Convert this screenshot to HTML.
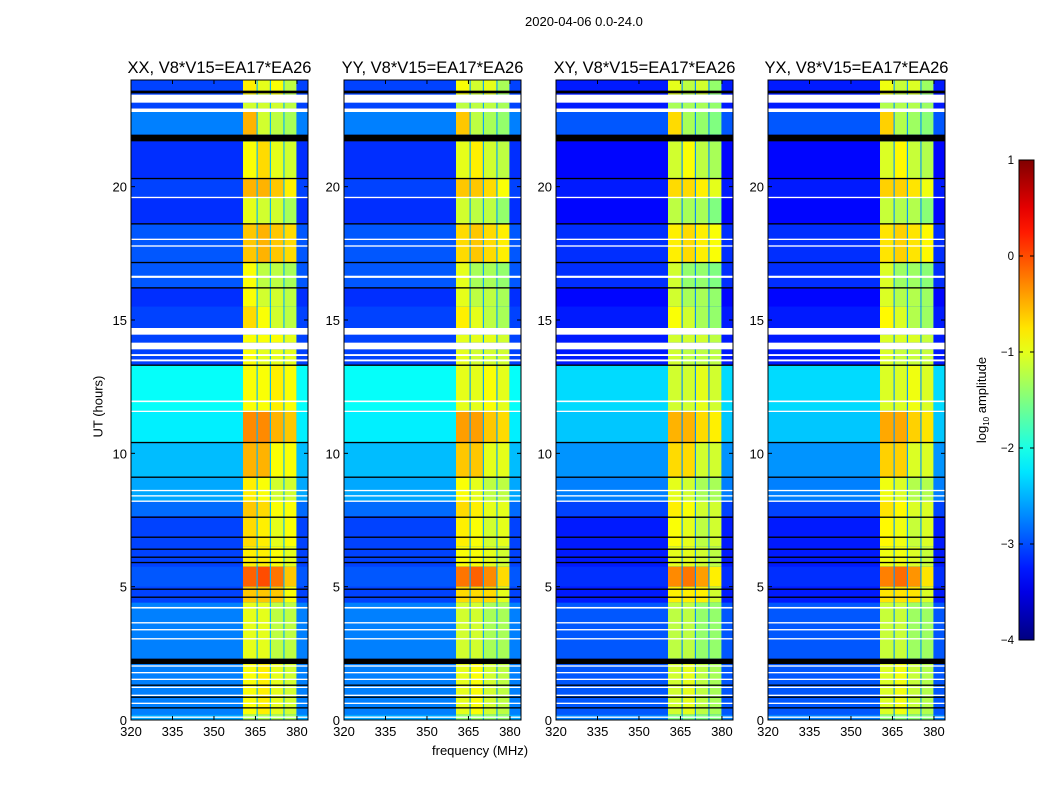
<!DOCTYPE html>
<html><head><meta charset="utf-8"><style>
body{margin:0;background:#fff;font-family:"Liberation Sans",sans-serif;}
#root{position:relative;width:1050px;height:800px;overflow:hidden;background:#fff}
.t{position:absolute;font-size:13px;color:#000;white-space:nowrap}
</style></head><body>
<div id="root">
<div class="t" style="left:525px;top:14px;font-size:13px">2020-04-06 0.0-24.0</div>
<div class="t" style="left:432px;top:743px">frequency (MHz)</div>
<div class="t" style="left:60px;top:392px;transform:rotate(-90deg);transform-origin:center;width:76px">UT (hours)</div>
<svg id="svg" width="1050" height="800" style="position:absolute;left:0;top:0"></svg>
</div>
<script>
const panelTitles=["XX, V8*V15=EA17*EA26","YY, V8*V15=EA17*EA26","XY, V8*V15=EA17*EA26","YX, V8*V15=EA17*EA26"];
const bgOffset=[-0.35,-0.35,-0.55,-0.55];
const rfiOffset=[-0.3,-0.4,-0.5,-0.45];
const xTicks=[320,335,350,365,380];
const yTicks=[0,5,10,15,20];
const cbTicks=[1,0,-1,-2,-3,-4];
// [t0,t1,background,rfiCol1,rfiCol2,rfiCol3,rfiCol4] in log10 amplitude
const timeBlocks=[
[23.45,24,-2.7,-0.5,-0.7,-0.6,-0.9],
[22.93,23.15,-2.7,-0.8,-0.8,-0.8,-0.9],
[21.95,22.8,-2.4,-0.2,-0.8,-0.9,-1.0],
[20.3,21.7,-2.8,-0.6,-0.4,-0.7,-0.8],
[19.6,20.3,-2.7,-0.2,-0.2,-0.3,-0.5],
[18.6,19.6,-2.8,-0.7,-0.8,-0.8,-1.0],
[17.15,18.6,-2.6,-0.3,-0.2,-0.3,-0.4],
[16.2,17.15,-2.6,-0.6,-0.9,-0.9,-1.0],
[15.5,16.2,-2.8,-0.6,-0.8,-0.8,-0.9],
[14.7,15.5,-2.7,-0.4,-0.6,-0.8,-0.9],
[14.15,14.45,-2.7,-0.6,-0.6,-0.6,-0.7],
[13.3,13.9,-2.7,-0.6,-0.7,-0.7,-0.7],
[11.6,13.3,-1.75,-0.6,-0.6,-0.5,-0.6],
[10.4,11.6,-1.85,0.0,0.0,-0.2,-0.3],
[9.1,10.4,-2.1,-0.2,-0.2,-0.6,-0.6],
[8.2,9.1,-2.2,-0.5,-0.6,-0.8,-0.8],
[7.65,8.2,-2.5,-0.3,-0.4,-0.6,-0.6],
[6.5,7.65,-2.7,-0.4,-0.5,-0.7,-0.6],
[5.75,6.5,-2.7,-0.5,-0.5,-0.6,-0.7],
[5.0,5.75,-2.6,0.2,0.3,0.1,-0.3],
[4.4,5.0,-2.7,-0.3,-0.3,-0.3,-0.6],
[2.3,4.4,-2.4,-0.7,-0.7,-0.9,-0.9],
[0.2,2.1,-2.4,-0.6,-0.5,-0.7,-0.8],
[0,0.2,-2.2,-1,-1,-1,-1]];
const rfiColumns=[[360.5,365.4],[365.8,370.2],[370.6,375.1],[375.5,379.8]];
const flaggedWhite=[[23.15,23.45],[22.8,22.93],[19.57,19.62],[18.0,18.05],[17.75,17.8],[16.58,16.66],[14.45,14.7],[13.9,14.15],[13.65,13.72],[13.45,13.52],[11.92,11.98],[11.55,11.6],[8.58,8.63],[8.38,8.43],[8.18,8.23],[4.18,4.24],[3.62,3.67],[3.36,3.41],[3.02,3.07],[2.0,2.05],[1.75,1.8],[1.5,1.55],[1.2,1.25],[0.9,0.95],[0.6,0.65],[0.08,0.13]];
const blackRows=[[23.5,23.6],[21.7,21.95],[20.28,20.33],[18.58,18.63],[17.13,17.18],[16.18,16.23],[13.28,13.33],[10.38,10.43],[9.08,9.13],[7.58,7.63],[6.83,6.88],[6.38,6.43],[6.08,6.13],[5.88,5.93],[4.88,4.93],[4.58,4.63],[2.1,2.3],[1.28,1.33],[0.83,0.88],[0.43,0.48]];

const NS="http://www.w3.org/2000/svg";
const svg=document.getElementById('svg');
const panelLeft=[131,344,556,768],PW=177,PT=80,PB=720;
const fMin=320,fMax=384,tMin=0,tMax=24;
function jet(v){let t=Math.max(0,Math.min(1,(v+4)/5));
 const f=x=>Math.max(0,Math.min(1,1.5-Math.abs(x)));
 const r=f(4*t-3),g=f(4*t-2),b=f(4*t-1);
 return `rgb(${Math.round(r*255)},${Math.round(g*255)},${Math.round(b*255)})`;}
function el(tag,attrs,parent){const e=document.createElementNS(NS,tag);for(const k in attrs)e.setAttribute(k,attrs[k]);(parent||svg).appendChild(e);return e;}
panelTitles.forEach((title,p)=>{
 const L=panelLeft[p];
 const xs=f=>L+(f-fMin)/(fMax-fMin)*PW;
 const ys=t=>PB-(t-tMin)/(tMax-tMin)*(PB-PT);
 const g=el('g',{});
 
 
 el('rect',{x:L,y:PT,width:PW,height:PB-PT,fill:jet(-2.7+bgOffset[p])},g);
 timeBlocks.forEach(b=>{
  const y0=ys(b[1]),y1=ys(b[0]);
  const r=el('rect',{x:L,y:y0,width:PW,height:y1-y0,fill:jet(b[2]+bgOffset[p])},g);
  
  
  const band=el('rect',{x:xs(360.5),y:y0,width:xs(379.8)-xs(360.5),height:y1-y0,fill:jet(-2.2+rfiOffset[p])},g);
  
  
  rfiColumns.forEach((c,i)=>{
   const cell=el('rect',{x:xs(c[0]),y:y0,width:xs(c[1])-xs(c[0]),height:y1-y0,fill:jet(b[3+i]+rfiOffset[p])},g);
   
   
  });
 });
 flaggedWhite.forEach(w=>{const r=el('rect',{x:L,y:ys(w[1]),width:PW,height:Math.max(1.2,ys(w[0])-ys(w[1])),fill:'#fff'},g);
  });
 blackRows.forEach(w=>{const r=el('rect',{x:L,y:ys(w[1]),width:PW,height:Math.max(1.2,ys(w[0])-ys(w[1])),fill:'#000'},g);
  });
 el('rect',{x:L,y:PT,width:PW,height:PB-PT,fill:'none',stroke:'#000','stroke-width':1},g);
 xTicks.forEach(v=>{const x=xs(v);
  el('line',{x1:x,x2:x,y1:PB,y2:PB-4,stroke:'#000'},g);el('line',{x1:x,x2:x,y1:PT,y2:PT+4,stroke:'#000'},g);
  const t=el('text',{x:x,y:PB+16,'text-anchor':'middle','font-size':13,'font-family':'Liberation Sans'},g);t.textContent=v;
  });
 yTicks.forEach(v=>{const y=ys(v);
  el('line',{x1:L,x2:L+4,y1:y,y2:y,stroke:'#000'},g);el('line',{x1:L+PW,x2:L+PW-4,y1:y,y2:y,stroke:'#000'},g);
  const t=el('text',{x:L-4,y:y+5,'text-anchor':'end','font-size':13,'font-family':'Liberation Sans'},g);t.textContent=v;
  });
 const tt=el('text',{x:L+PW/2,y:PT-7,'text-anchor':'middle','font-size':16.5,'font-family':'Liberation Sans'},g);tt.textContent=title;
 
});
// colorbar
const cbX=1019,cbW=15,cbT=160,cbB=640;
const defs=el('defs',{});
const grad=el('linearGradient',{id:'jetg',x1:0,y1:1,x2:0,y2:0},defs);
for(let i=0;i<=20;i++){el('stop',{offset:i/20,'stop-color':jet(-4+5*i/20)},grad);}
const cb=el('rect',{x:cbX,y:cbT,width:cbW,height:cbB-cbT,fill:'url(#jetg)',stroke:'#000'});

cbTicks.forEach(v=>{const y=cbB-(v+4)/5*(cbB-cbT);
 el('line',{x1:cbX,x2:cbX+4,y1:y,y2:y,stroke:'#000'});el('line',{x1:cbX+cbW,x2:cbX+cbW-4,y1:y,y2:y,stroke:'#000'});
 const t=el('text',{x:cbX-5,y:y+4,'text-anchor':'end','font-size':11.5,'font-family':'Liberation Sans'});t.textContent=(v<0?'\u2212'+(-v):v);
 });
const cl=el('text',{transform:'translate(986,400) rotate(-90)','text-anchor':'middle','font-size':13,'font-family':'Liberation Sans'});
cl.innerHTML='log<tspan font-size="8" dy="3">10</tspan><tspan dy="-3"> amplitude</tspan>';

</script>
</body></html>
